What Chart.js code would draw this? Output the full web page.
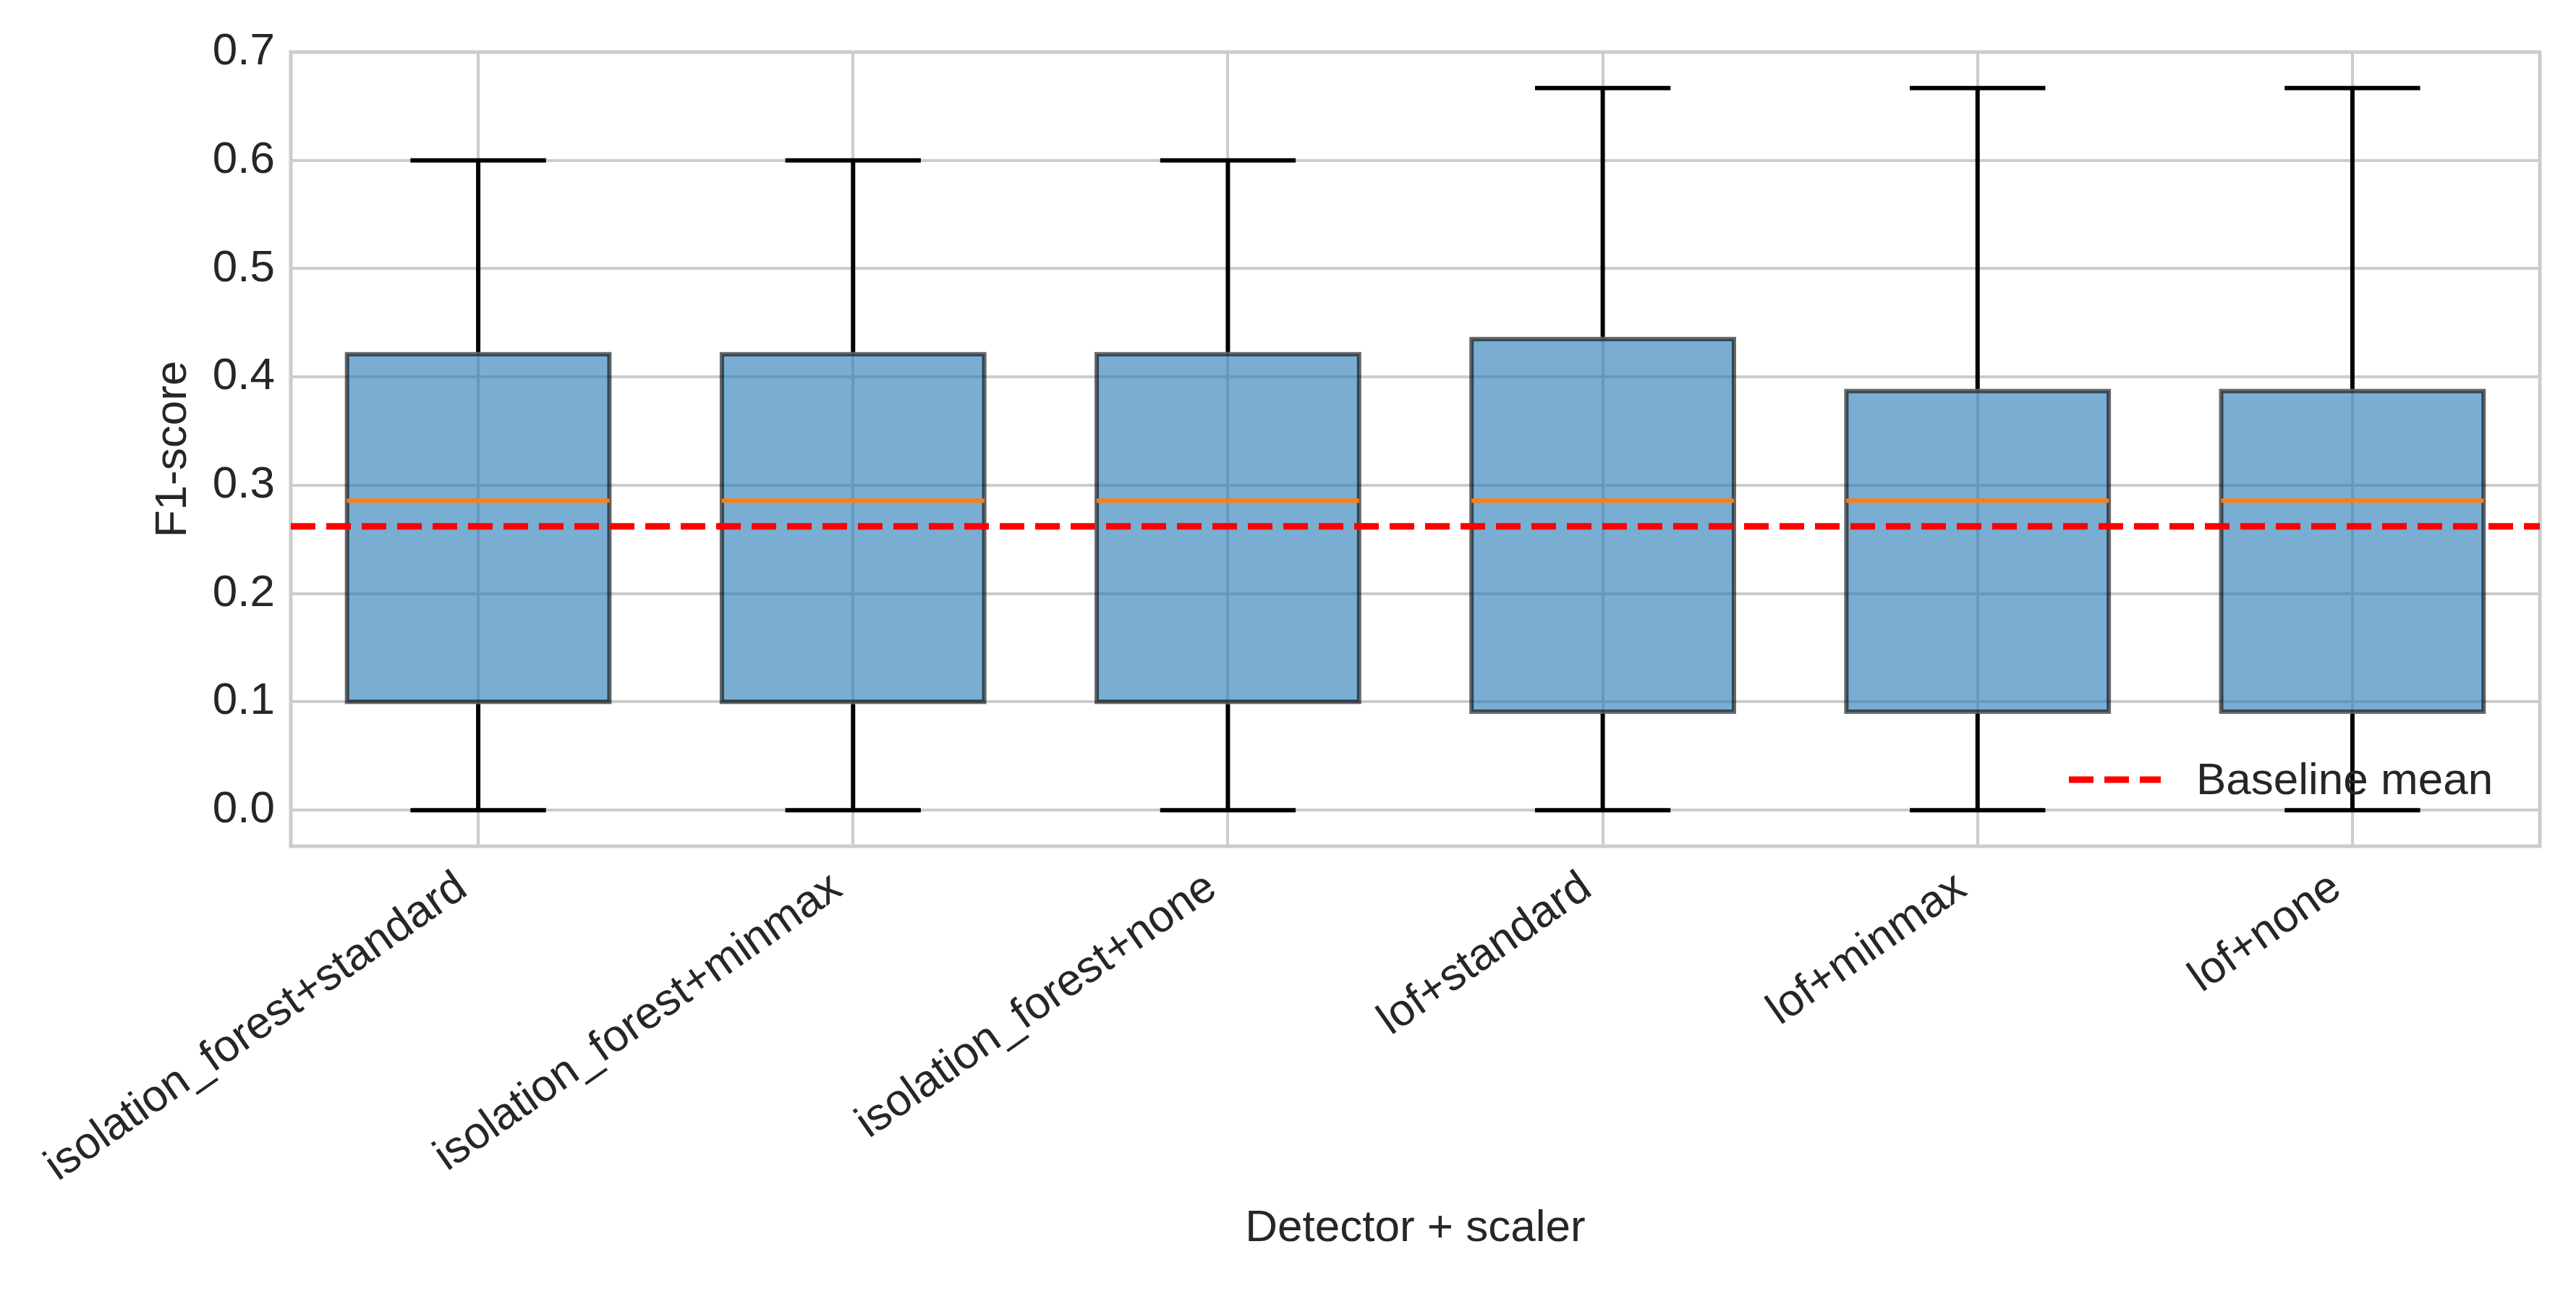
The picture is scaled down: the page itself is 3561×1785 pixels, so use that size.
<!DOCTYPE html>
<html>
<head>
<meta charset="utf-8">
<script src="https://cdn.jsdelivr.net/npm/chart.js@4.4.0/dist/chart.umd.min.js"></script>
<style>
  html, body { margin: 0; padding: 0; background: #fff; }
  canvas { display: block; }
</style>
</head>
<body>
<canvas id="boxChart" width="3561" height="1785"></canvas>
<script>
// F1-score distribution per detector + scaler
const categories = [
  'isolation_forest+standard',
  'isolation_forest+minmax',
  'isolation_forest+none',
  'lof+standard',
  'lof+minmax',
  'lof+none'
];
const whiskerLow  = [0, 0, 0, 0, 0, 0];
const q1          = [0.1, 0.1, 0.1, 0.0909, 0.0909, 0.0909];
const median      = [0.2857, 0.2857, 0.2857, 0.2857, 0.2857, 0.2857];
const q3          = [0.421, 0.421, 0.421, 0.435, 0.387, 0.387];
const whiskerHigh = [0.6, 0.6, 0.6, 0.6667, 0.6667, 0.6667];
const baselineMean = 0.262;
const legendLabel = 'Baseline mean';
const yTicks = [0, 0.1, 0.2, 0.3, 0.4, 0.5, 0.6, 0.7];
const yRange = [-0.0333, 0.7];

const FONT = '"Liberation Sans", Arial, sans-serif';
const TEXT = '#262626';
const GRID = '#cccccc';

// box outlines, whiskers, caps, medians, baseline and legend drawn off the chart scales
const boxExtras = {
  id: 'boxExtras',
  beforeDatasetsDraw(chart) {
    const { ctx, chartArea: a } = chart;
    ctx.save();
    ctx.strokeStyle = GRID;
    ctx.lineWidth = 5;
    ctx.strokeRect(a.left, a.top, a.right - a.left, a.bottom - a.top);
    ctx.restore();
  },
  afterDatasetsDraw(chart) {
    const { ctx, chartArea: a, scales: { x, y } } = chart;
    const step = x.getPixelForValue(1) - x.getPixelForValue(0);
    const boxHalf = step * 0.35;
    const capHalf = step * 0.175;

    ctx.save();
    categories.forEach((c, i) => {
      const cx = x.getPixelForValue(i);
      const yLo = y.getPixelForValue(q1[i]);
      const yHi = y.getPixelForValue(q3[i]);

      // box edge, same alpha as the face
      ctx.strokeStyle = 'rgba(0, 0, 0, 0.6)';
      ctx.lineWidth = 6;
      ctx.lineJoin = 'miter';
      ctx.strokeRect(cx - boxHalf, yHi, boxHalf * 2, yLo - yHi);

      // whiskers
      ctx.strokeStyle = '#000';
      ctx.lineCap = 'butt';
      ctx.beginPath();
      ctx.moveTo(cx, yLo + 3);
      ctx.lineTo(cx, y.getPixelForValue(whiskerLow[i]));
      ctx.moveTo(cx, yHi - 3);
      ctx.lineTo(cx, y.getPixelForValue(whiskerHigh[i]));
      ctx.stroke();

      // caps
      ctx.lineCap = 'square';
      ctx.beginPath();
      [whiskerLow[i], whiskerHigh[i]].forEach(v => {
        const py = y.getPixelForValue(v);
        ctx.moveTo(cx - capHalf, py);
        ctx.lineTo(cx + capHalf, py);
      });
      ctx.stroke();

      // median
      ctx.strokeStyle = '#ff7f0e';
      ctx.lineCap = 'butt';
      ctx.beginPath();
      const my = y.getPixelForValue(median[i]);
      ctx.moveTo(cx - boxHalf, my);
      ctx.lineTo(cx + boxHalf, my);
      ctx.stroke();
    });

    // baseline mean
    const by = y.getPixelForValue(baselineMean);
    ctx.strokeStyle = '#ff0000';
    ctx.lineWidth = 9;
    ctx.setLineDash([34, 15]);
    ctx.beginPath();
    ctx.moveTo(a.left, by);
    ctx.lineTo(a.right, by);
    ctx.stroke();

    // legend, lower right inside the axes
    const ly = a.bottom - 92;
    ctx.beginPath();
    ctx.moveTo(a.right - 651, ly);
    ctx.lineTo(a.right - 524, ly);
    ctx.stroke();
    ctx.setLineDash([]);
    ctx.fillStyle = TEXT;
    ctx.font = '62px ' + FONT;
    ctx.textAlign = 'left';
    ctx.textBaseline = 'alphabetic';
    ctx.fillText(legendLabel, a.right - 475, a.bottom - 72);
    ctx.restore();
  }
};

new Chart(document.getElementById('boxChart'), {
  type: 'bar',
  data: {
    labels: categories,
    datasets: [{
      label: 'F1-score',
      data: q1.map((lo, i) => [lo, q3[i]]),
      backgroundColor: 'rgba(31, 119, 180, 0.6)',
      borderWidth: 0,
      barPercentage: 0.7,
      categoryPercentage: 1.0
    }]
  },
  options: {
    responsive: false,
    devicePixelRatio: 1,
    animation: false,
    events: [],
    layout: { padding: { left: 0, top: 72, right: 50, bottom: 0 } },
    plugins: {
      legend: { display: false },
      tooltip: { enabled: false }
    },
    scales: {
      x: {
        type: 'category',
        offset: true,
        afterFit: axis => { axis.height = 615; },
        grid: { color: GRID, lineWidth: 4, drawTicks: false, offset: false },
        border: { display: false },
        ticks: {
          font: { family: FONT, size: 62 },
          color: TEXT,
          minRotation: 35,
          maxRotation: 35,
          autoSkip: false,
          padding: 21,
          labelOffset: -22
        },
        title: {
          display: true,
          text: 'Detector + scaler',
          font: { family: FONT, size: 62, lineHeight: 1.2 },
          color: TEXT,
          padding: { top: 0, bottom: 49 }
        }
      },
      y: {
        min: yRange[0],
        max: yRange[1],
        afterBuildTicks: axis => { axis.ticks = yTicks.map(v => ({ value: v })); },
        afterFit: axis => { axis.width = 402; },
        grid: { color: GRID, lineWidth: 4, drawTicks: false },
        border: { display: false },
        ticks: {
          font: { family: FONT, size: 62 },
          color: TEXT,
          padding: 22,
          callback: v => v.toFixed(1)
        },
        title: {
          display: true,
          text: 'F1-score',
          font: { family: FONT, size: 62, lineHeight: 1.2 },
          color: TEXT,
          padding: { top: 203, bottom: 0 }
        }
      }
    }
  },
  plugins: [boxExtras]
});
</script>
</body>
</html>
